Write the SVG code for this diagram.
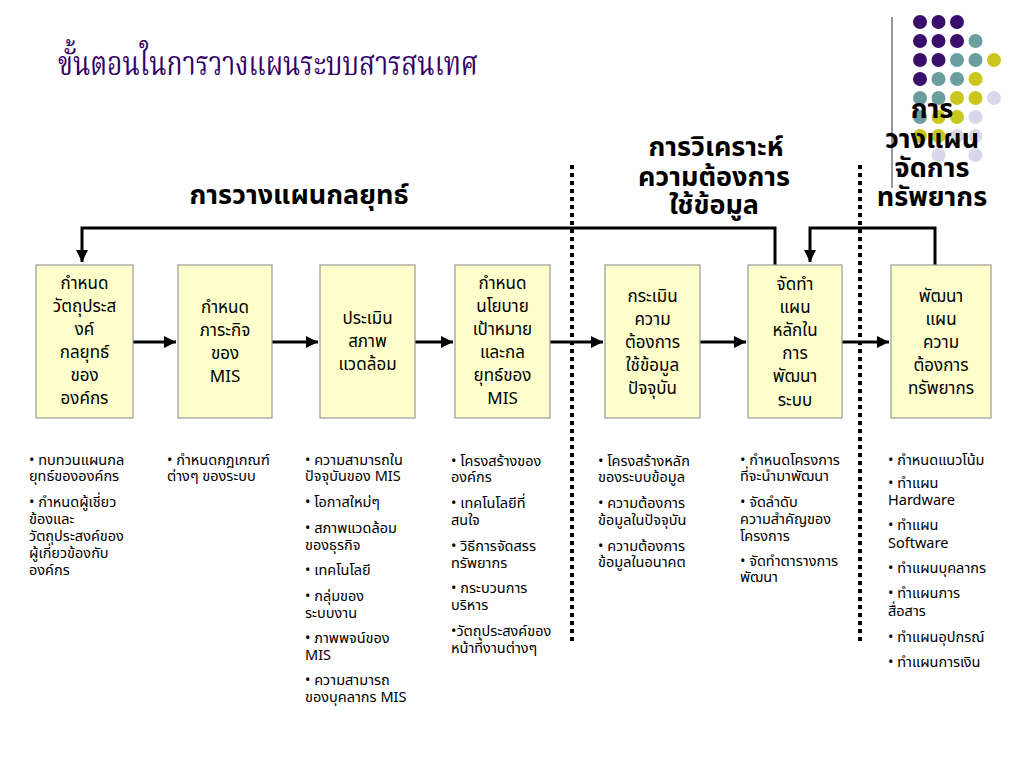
<svg xmlns="http://www.w3.org/2000/svg" width="1024" height="768" viewBox="0 0 1024 768">
<defs>
<marker id="ah" viewBox="0 0 10 10" refX="10" refY="5" markerWidth="4" markerHeight="4" orient="auto" markerUnits="strokeWidth">
<path d="M0,0 L10,5 L0,10 z" fill="#000"/>
</marker>
<style>
.box{fill:#ffffcc;stroke:#999;stroke-width:1.2}
.bt{font-family:Tahoma,"Noto Sans Thai","DejaVu Sans",sans-serif;font-size:17px;fill:#000;text-anchor:middle}
.hd{font-family:Tahoma,"Noto Sans Thai","DejaVu Sans",sans-serif;font-size:27px;font-weight:bold;fill:#000;text-anchor:middle}
.bl{font-family:Tahoma,"Noto Sans Thai","DejaVu Sans",sans-serif;font-size:14.5px;fill:#000}
.ttl{font-family:"Noto Serif Thai","Noto Sans Thai","Liberation Serif",serif;font-size:34px;fill:#330066}
.con{fill:none;stroke:#000;stroke-width:3}
.dot{fill:none;stroke:#000;stroke-width:4;stroke-dasharray:4 4}
.p{fill:#3a0f6b}.t{fill:#6b9e9e}.y{fill:#c9c61e}.l{fill:#d9d8ea}
</style>
</defs>
<rect width="1024" height="768" fill="#fff"/>
<g id="decor">
<line x1="892" y1="17" x2="892" y2="188" stroke="#555" stroke-width="1.2"/>
<circle class="p" cx="920" cy="22" r="7"/><circle class="p" cx="938.5" cy="22" r="7"/><circle class="p" cx="957" cy="22" r="7"/>
<circle class="p" cx="920" cy="41" r="7"/><circle class="p" cx="938.5" cy="41" r="7"/><circle class="p" cx="957" cy="41" r="7"/><circle class="t" cx="975.5" cy="41" r="7"/>
<circle class="p" cx="920" cy="60" r="7"/><circle class="p" cx="938.5" cy="60" r="7"/><circle class="t" cx="957" cy="60" r="7"/><circle class="t" cx="975.5" cy="60" r="7"/><circle class="y" cx="994" cy="60" r="7"/>
<circle class="p" cx="920" cy="79" r="7"/><circle class="t" cx="938.5" cy="79" r="7"/><circle class="t" cx="957" cy="79" r="7"/><circle class="y" cx="975.5" cy="79" r="7"/>
<circle class="t" cx="920" cy="98" r="7"/><circle class="t" cx="938.5" cy="98" r="7"/><circle class="y" cx="957" cy="98" r="7"/><circle class="y" cx="975.5" cy="98" r="7"/><circle class="l" cx="994" cy="98" r="7"/>
<circle class="t" cx="920" cy="117" r="7"/><circle class="y" cx="938.5" cy="117" r="7"/><circle class="y" cx="957" cy="117" r="7"/><circle class="l" cx="975.5" cy="117" r="7"/>
<circle class="y" cx="920" cy="136" r="7"/><circle class="y" cx="938.5" cy="136" r="7"/><circle class="l" cx="957" cy="136" r="7"/><circle class="l" cx="975.5" cy="136" r="7"/>
<circle class="l" cx="938.5" cy="155" r="7"/><circle class="l" cx="975.5" cy="155" r="7"/>
</g>
<text class="ttl" x="58" y="75" textLength="420" lengthAdjust="spacingAndGlyphs">ขั้นตอนในการวางแผนระบบสารสนเทศ</text>
<g id="headers">
<text class="hd" x="299" y="204">การวางแผนกลยุทธ์</text>
<text class="hd" x="716" y="156">การวิเคราะห์</text>
<text class="hd" x="714" y="186">ความต้องการ</text>
<text class="hd" x="714" y="214">ใช้ข้อมูล</text>
<text class="hd" x="932" y="118">การ</text>
<text class="hd" x="932" y="148">วางแผน</text>
<text class="hd" x="932" y="177">จัดการ</text>
<text class="hd" x="932" y="206">ทรัพยากร</text>
</g>
<g id="separators">
<line class="dot" x1="572" y1="165" x2="572" y2="645"/>
<line class="dot" x1="860" y1="165" x2="860" y2="645"/>
</g>
<g id="connectors">
<polyline class="con" points="775,265 775,228 82,228 82,262" marker-end="url(#ah)"/>
<polyline class="con" points="935,265 935,228 810,228 810,262" marker-end="url(#ah)"/>
<line class="con" x1="133" y1="342" x2="176" y2="342" marker-end="url(#ah)"/>
<line class="con" x1="272" y1="342" x2="318" y2="342" marker-end="url(#ah)"/>
<line class="con" x1="415" y1="342" x2="453" y2="342" marker-end="url(#ah)"/>
<line class="con" x1="550" y1="342" x2="603" y2="342" marker-end="url(#ah)"/>
<line class="con" x1="700" y1="342" x2="746" y2="342" marker-end="url(#ah)"/>
<line class="con" x1="842" y1="342" x2="889" y2="342" marker-end="url(#ah)"/>
</g>
<g id="n1">
<rect class="box" x="36" y="265" width="97" height="153"/>
<text class="bt" x="84.5"><tspan x="84.5" y="289">กำหนด</tspan><tspan x="84.5" y="312">วัตถุประส</tspan><tspan x="84.5" y="335">งค์</tspan><tspan x="84.5" y="358">กลยุทธ์</tspan><tspan x="84.5" y="381">ของ</tspan><tspan x="84.5" y="404">องค์กร</tspan></text>
</g>
<g id="n2">
<rect class="box" x="178" y="265" width="94" height="153"/>
<text class="bt"><tspan x="225" y="313">กำหนด</tspan><tspan x="225" y="336">ภาระกิจ</tspan><tspan x="225" y="359">ของ</tspan><tspan x="225" y="382">MIS</tspan></text>
</g>
<g id="n3">
<rect class="box" x="320" y="265" width="95" height="153"/>
<text class="bt"><tspan x="367.5" y="324">ประเมิน</tspan><tspan x="367.5" y="347">สภาพ</tspan><tspan x="367.5" y="370">แวดล้อม</tspan></text>
</g>
<g id="n4">
<rect class="box" x="455" y="265" width="95" height="153"/>
<text class="bt"><tspan x="502.5" y="289">กำหนด</tspan><tspan x="502.5" y="312">นโยบาย</tspan><tspan x="502.5" y="335">เป้าหมาย</tspan><tspan x="502.5" y="358">และกล</tspan><tspan x="502.5" y="381">ยุทธ์ของ</tspan><tspan x="502.5" y="404">MIS</tspan></text>
</g>
<g id="n5">
<rect class="box" x="605" y="265" width="95" height="153"/>
<text class="bt"><tspan x="652.5" y="302">กระเมิน</tspan><tspan x="652.5" y="325">ความ</tspan><tspan x="652.5" y="348">ต้องการ</tspan><tspan x="652.5" y="371">ใช้ข้อมูล</tspan><tspan x="652.5" y="394">ปัจจุบัน</tspan></text>
</g>
<g id="n6">
<rect class="box" x="748" y="265" width="94" height="153"/>
<text class="bt"><tspan x="795" y="290">จัดทำ</tspan><tspan x="795" y="313">แผน</tspan><tspan x="795" y="336">หลักใน</tspan><tspan x="795" y="359">การ</tspan><tspan x="795" y="382">พัฒนา</tspan><tspan x="795" y="406">ระบบ</tspan></text>
</g>
<g id="n7">
<rect class="box" x="891" y="265" width="100" height="153"/>
<text class="bt"><tspan x="941" y="302">พัฒนา</tspan><tspan x="941" y="325">แผน</tspan><tspan x="941" y="348">ความ</tspan><tspan x="941" y="371">ต้องการ</tspan><tspan x="941" y="394">ทรัพยากร</tspan></text>
</g>
<g id="notes1">
<text class="bl"><tspan x="29" y="465">• ทบทวนแผนกล</tspan><tspan x="29" y="481">ยุทธ์ขององค์กร</tspan><tspan x="29" y="507">• กำหนดผู้เชี่ยว</tspan><tspan x="29" y="524">ข้องและ</tspan><tspan x="29" y="541">วัตถุประสงค์ของ</tspan><tspan x="29" y="558">ผู้เกี่ยวข้องกับ</tspan><tspan x="29" y="575">องค์กร</tspan></text>
</g>
<g id="notes2">
<text class="bl"><tspan x="167" y="465">• กำหนดกฎเกณฑ์</tspan><tspan x="167" y="481">ต่างๆ ของระบบ</tspan></text>
</g>
<g id="notes3">
<text class="bl"><tspan x="305" y="465">• ความสามารถใน</tspan><tspan x="305" y="481">ปัจจุบันของ MIS</tspan><tspan x="305" y="507">• โอกาสใหม่ๆ</tspan><tspan x="305" y="533">• สภาพแวดล้อม</tspan><tspan x="305" y="550">ของธุรกิจ</tspan><tspan x="305" y="575">• เทคโนโลยี</tspan><tspan x="305" y="601">• กลุ่มของ</tspan><tspan x="305" y="618">ระบบงาน</tspan><tspan x="305" y="643">• ภาพพจน์ของ</tspan><tspan x="305" y="660">MIS</tspan><tspan x="305" y="685">• ความสามารถ</tspan><tspan x="305" y="702">ของบุคลากร MIS</tspan></text>
</g>
<g id="notes4">
<text class="bl"><tspan x="451" y="466">• โครงสร้างของ</tspan><tspan x="451" y="482">องค์กร</tspan><tspan x="451" y="508">• เทคโนโลยีที่</tspan><tspan x="451" y="525">สนใจ</tspan><tspan x="451" y="551">• วิธีการจัดสรร</tspan><tspan x="451" y="568">ทรัพยากร</tspan><tspan x="451" y="593">• กระบวนการ</tspan><tspan x="451" y="610">บริหาร</tspan><tspan x="451" y="636">•วัตถุประสงค์ของ</tspan><tspan x="451" y="653">หน้าที่งานต่างๆ</tspan></text>
</g>
<g id="notes5">
<text class="bl"><tspan x="598" y="466">• โครงสร้างหลัก</tspan><tspan x="598" y="482">ของระบบข้อมูล</tspan><tspan x="598" y="508">• ความต้องการ</tspan><tspan x="598" y="525">ข้อมูลในปัจจุบัน</tspan><tspan x="598" y="551">• ความต้องการ</tspan><tspan x="598" y="567">ข้อมูลในอนาคต</tspan></text>
</g>
<g id="notes6">
<text class="bl"><tspan x="740" y="465">• กำหนดโครงการ</tspan><tspan x="740" y="481">ที่จะนำมาพัฒนา</tspan><tspan x="740" y="507">• จัดลำดับ</tspan><tspan x="740" y="524">ความสำคัญของ</tspan><tspan x="740" y="541">โครงการ</tspan><tspan x="740" y="566">• จัดทำตารางการ</tspan><tspan x="740" y="582">พัฒนา</tspan></text>
</g>
<g id="notes7">
<text class="bl"><tspan x="888" y="465">• กำหนดแนวโน้ม</tspan><tspan x="888" y="488">• ทำแผน</tspan><tspan x="888" y="505">Hardware</tspan><tspan x="888" y="530">• ทำแผน</tspan><tspan x="888" y="548">Software</tspan><tspan x="888" y="573">• ทำแผนบุคลากร</tspan><tspan x="888" y="598">• ทำแผนการ</tspan><tspan x="888" y="616">สื่อสาร</tspan><tspan x="888" y="642">• ทำแผนอุปกรณ์</tspan><tspan x="888" y="667">• ทำแผนการเงิน</tspan></text>
</g>
</svg>
